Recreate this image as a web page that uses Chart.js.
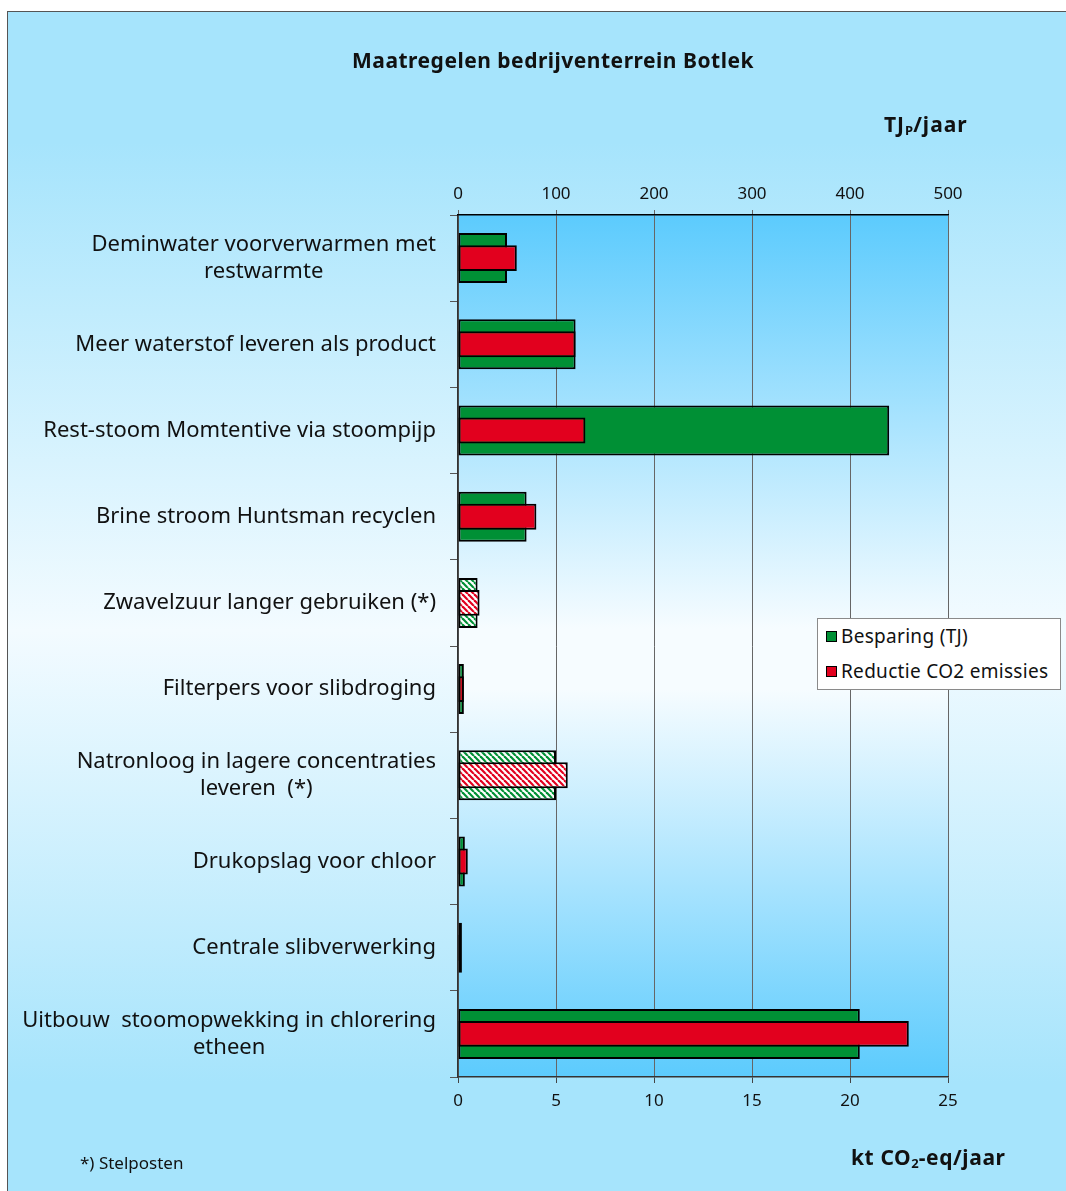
<!DOCTYPE html>
<html>
<head>
<meta charset="utf-8">
<script src="https://cdn.jsdelivr.net/npm/chart.js@4.4.0/dist/chart.umd.min.js"></script>
<style>
  body { margin: 0; width: 1066px; height: 1191px; overflow: hidden; background: #fff; font-family: 'Noto Sans', sans-serif; }
  #frame {
    position: absolute; left: 7px; top: 11px; width: 1070px; height: 1190px;
    border-left: 1px solid #555; border-top: 1px solid #555;
    background: linear-gradient(to bottom, #a6e4fc 0%, #a6e4fc 11%, #f3fbff 52%, #a6e4fc 90%, #a6e4fc 100%);
  }
  #chartWrap { position: absolute; left: 0; top: 0; width: 1066px; height: 1191px; }
  .txt { position: absolute; color: #111; white-space: nowrap; }
  #title { left: 0; width: 1106px; top: 46px; text-align: center; font-weight: bold; font-size: 21px; letter-spacing: 0.5px; }
  #unitTop { left: 884px; top: 110px; font-weight: bold; font-size: 21px; letter-spacing: 1px; }
  #unitBottom { left: 851px; top: 1143px; font-weight: bold; font-size: 21px; letter-spacing: 0.6px; }
  #note { left: 80px; top: 1151px; font-size: 17px; }
  sub { font-size: 13px; vertical-align: -3px; line-height: 0; letter-spacing: 0; }
  #legend {
    position: absolute; left: 817px; top: 618px; width: 242px; height: 70px;
    background: #fff; border: 1px solid #8a8a8a; font-size: 19px; letter-spacing: 0.3px; color: #111;
  }
  .item { position: absolute; left: 8px; height: 24px; line-height: 24px; }
  .box { display: inline-block; width: 9px; height: 9px; border: 1.5px solid #000; margin-right: 4px; vertical-align: 1px; }
</style>
</head>
<body>
<div id="frame"></div>
<div id="chartWrap"><canvas id="chart" width="1066" height="1191"></canvas></div>
<div class="txt" id="title">Maatregelen bedrijventerrein Botlek</div>
<div class="txt" id="unitTop">TJ<sub>P</sub>/jaar</div>
<div class="txt" id="unitBottom">kt CO<sub>2</sub>-eq/jaar</div>
<div class="txt" id="note">*) Stelposten</div>
<div id="legend"></div>
<script>
// maatregelen (labels over meerdere regels)
const categories = [
  ['Deminwater voorverwarmen met', 'restwarmte'],
  ['Meer waterstof leveren als product'],
  ['Rest-stoom Momtentive via stoompijp'],
  ['Brine stroom Huntsman recyclen'],
  ['Zwavelzuur langer gebruiken (*)'],
  ['Filterpers voor slibdroging'],
  ['Natronloog in lagere concentraties', 'leveren  (*)'],
  ['Drukopslag voor chloor'],
  ['Centrale slibverwerking'],
  ['Uitbouw  stoomopwekking in chlorering', 'etheen']
];
const besparingTJ = [50, 120, 440, 70, 20, 6, 100, 7, 4, 410];
const reductieCO2 = [3.0, 6.0, 6.5, 4.0, 1.1, 0.3, 5.6, 0.5, 0.1, 23.0];
const stelposten = [4, 6]; // gearceerd
const tjTicks = [0, 100, 200, 300, 400, 500];
const co2Ticks = [0, 5, 10, 15, 20, 25];

const GREEN = '#009035';
const RED = '#e2001e';

function hatch(color) {
  const c = document.createElement('canvas');
  c.width = 6; c.height = 6;
  const g = c.getContext('2d');
  g.fillStyle = '#fff';
  g.fillRect(0, 0, 6, 6);
  g.strokeStyle = color;
  g.lineWidth = 2.2;
  for (let o = -6; o <= 6; o += 6) {
    g.beginPath();
    g.moveTo(o, 0);
    g.lineTo(o + 6, 6);
    g.stroke();
  }
  return g.createPattern(c, 'repeat');
}

const greenFill = besparingTJ.map((v, i) => stelposten.includes(i) ? hatch(GREEN) : GREEN);
const redFill = reductieCO2.map((v, i) => stelposten.includes(i) ? hatch(RED) : RED);

// achtergrond van het plotvlak + labels van de maatregelen
const plotDeco = {
  id: 'plotDeco',
  beforeDraw(chart) {
    const { ctx, chartArea: a } = chart;
    const grad = ctx.createLinearGradient(0, a.top, 0, a.bottom);
    grad.addColorStop(0, '#5ccbfd');
    grad.addColorStop(0.48, '#f6fcff');
    grad.addColorStop(0.55, '#f6fcff');
    grad.addColorStop(1, '#5ccbfd');
    ctx.save();
    ctx.fillStyle = grad;
    ctx.fillRect(a.left, a.top, a.right - a.left, a.bottom - a.top);
    ctx.restore();
  },
  afterDraw(chart) {
    const { ctx } = chart;
    const y = chart.scales.y;
    ctx.save();
    ctx.font = '22px "Noto Sans"';
    ctx.fillStyle = '#111';
    ctx.textAlign = 'center';
    ctx.textBaseline = 'middle';
    const right = chart.chartArea.left - 22;
    categories.forEach((lines, i) => {
      const cy = y.getPixelForTick(i);
      const w = Math.max(...lines.map(l => ctx.measureText(l).width));
      const cx = right - w / 2;
      const lh = 27;
      lines.forEach((l, j) => {
        ctx.fillText(l, cx, cy + (j - (lines.length - 1) / 2) * lh);
      });
    });
    ctx.restore();
  }
};

new Chart(document.getElementById('chart'), {
  type: 'bar',
  data: {
    labels: categories,
    datasets: [
      {
        label: 'Besparing (TJ)',
        data: besparingTJ,
        xAxisID: 'xTJ',
        backgroundColor: greenFill,
        borderColor: '#000',
        borderWidth: 2,
        borderSkipped: false,
        grouped: false,
        categoryPercentage: 1,
        barPercentage: 0.58,
        order: 2
      },
      {
        label: 'Reductie CO2 emissies',
        data: reductieCO2,
        xAxisID: 'xCO2',
        backgroundColor: redFill,
        borderColor: '#000',
        borderWidth: 2,
        borderSkipped: false,
        grouped: false,
        categoryPercentage: 1,
        barPercentage: 0.30,
        order: 1
      }
    ]
  },
  options: {
    indexAxis: 'y',
    responsive: false,
    animation: false,
    devicePixelRatio: 1,
    layout: { padding: { left: 0, right: 118, top: 150, bottom: 0 } },
    plugins: { legend: { display: false }, tooltip: { enabled: false }, title: { display: false } },
    scales: {
      y: {
        type: 'category',
        position: 'left',
        ticks: { display: false },
        grid: { offset: true, drawOnChartArea: false, drawTicks: true, tickLength: 8, color: '#555' },
        border: { display: true, color: '#333', width: 1.5 },
        afterFit(s) { s.width = 458; }
      },
      xTJ: {
        type: 'linear',
        position: 'top',
        min: 0, max: 500,
        afterBuildTicks(s) { s.ticks = tjTicks.map(v => ({ value: v })); },
        ticks: { color: '#111', font: { family: 'Noto Sans', size: 17 }, padding: 6 },
        grid: { drawOnChartArea: true, color: '#666', lineWidth: 1, tickLength: 5 },
        border: { display: true, color: '#000', width: 1.5 },
        afterFit(s) { s.height = 65; }
      },
      xCO2: {
        type: 'linear',
        position: 'bottom',
        min: 0, max: 25,
        afterBuildTicks(s) { s.ticks = co2Ticks.map(v => ({ value: v })); },
        ticks: { color: '#111', font: { family: 'Noto Sans', size: 17 }, padding: 8 },
        grid: { drawOnChartArea: false, color: '#444', tickLength: 6 },
        border: { display: true, color: '#333', width: 1.5 },
        afterFit(s) { s.height = 114; }
      }
    }
  },
  plugins: [plotDeco]
});

// legenda
const legend = document.getElementById('legend');
[['Besparing (TJ)', GREEN, 5], ['Reductie CO2 emissies', RED, 40]].forEach(([t, c, top]) => {
  const d = document.createElement('div');
  d.className = 'item';
  d.style.top = top + 'px';
  d.innerHTML = '<span class="box" style="background:' + c + '"></span>' + t;
  legend.appendChild(d);
});
</script>
</body>
</html>
